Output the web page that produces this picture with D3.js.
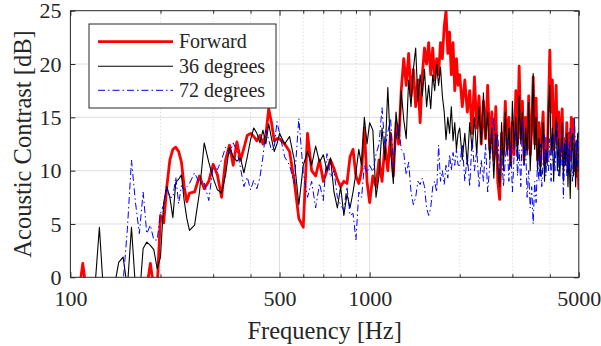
<!DOCTYPE html>
<html><head><meta charset="utf-8">
<script src="https://cdn.jsdelivr.net/npm/d3@7"></script>
<style>
body{margin:0;background:#fff}
svg{display:block}
text{font-family:"Liberation Serif","Times New Roman",serif;fill:#262626}
</style>
</head><body>
<svg id="c" width="601" height="346"></svg>
<script>
// ---- frequency sampling grid (Hz) ----
const freqSeg1 = d3.range(100, 250, 5);    // 30
const freqSeg2 = d3.range(250, 500, 10);   // 25
const freqSeg3 = d3.range(500, 1000, 20);  // 25
const freqSeg4 = d3.range(1000, 2000, 25); // 40
const freqSeg5 = d3.range(2000, 5001, 40); // 76

// ---- Forward (red) ----
const fwd1 = [-3,-3,1.3,-3,-4,-4,-3,-4,-3,-5,-4,-3,-3,-2,-3,-2,-1,1.3,-1,-1,5.8,5.1,8.5,11.0,12.0,12.2,11.8,10.8,8.5,7.1];
const fwd2 = [7.9,8.0,9.5,8.3,9.0,10.6,9.6,7.5,11.0,12.4,10.5,12.7,11.0,12.1,13.3,13.5,13.2,12.8,13.3,12.5,13.4,15.8,14.5,12.8,13.0];
const fwd3 = [13.0,12.5,11.8,9.0,5.5,4.7,13.5,10.0,9.5,11.0,9.0,10.0,11.0,10.2,9.2,8.5,9.0,8.8,11.3,12.0,9.5,8.8,10.0,14.0,9.0];
const fwd4 = [7.0,9.5,8.5,11.0,9.0,12.5,10.0,13.5,9.5,14.5,12.5,17.5,20.5,18.0,21.0,17.0,19.5,16.0,18.5,14.5,19.0,21.5,20.0,22.0,19.0,21.5,18.5,20.5,19.0,22.0,20.5,23.5,25.0,21.0,23.0,19.0,22.0,17.5,20.5,18.0];
const fwd5 = [19.0,16.0,18.5,15.5,17.5,13.5,18.8,14.0,17.0,12.5,16.5,13.0,18.0,12.0,15.5,11.0,16.0,9.0,7.3,13.5,11.5,16.5,12.0,15.0,10.5,14.5,11.5,17.5,12.5,19.8,13.0,16.5,11.0,15.0,12.0,17.0,11.5,14.0,18.8,12.5,16.8,11.0,14.5,10.5,13.5,15.5,10.5,13.0,11.0,16.0,21.3,15.5,18.5,12.0,14.0,18.0,12.5,15.5,11.0,14.0,15.8,10.5,13.0,11.5,14.5,10.0,13.5,11.0,15.0,12.0,14.8,10.0,12.5,9.5,11.5,8.2];

// ---- 36 degrees (black) ----
const d36_1 = [-3,-3,-4,-3,-2,4.7,-3,-3,-1,1.4,1.9,-1,4.7,-1,-2,2.7,3.3,3.0,2.6,0.8,1.9,7.0,8.5,7.5,5.6,8.9,9.2,9.6,7.2,5.5];
const d36_2 = [4.4,4.9,8.0,12.6,10.8,9.3,8.2,7.9,9.6,12.2,11.3,10.9,11.2,9.8,11.3,12.9,14.0,13.5,12.6,13.8,12.5,14.4,13.0,11.8,12.5];
const d36_3 = [13.5,12.5,13.2,11.0,6.8,10.5,11.8,10.5,12.3,10.8,11.5,10.0,11.2,8.0,6.5,8.5,5.8,7.8,6.5,8.0,9.8,12.0,10.5,15.0,12.5];
const d36_4 = [14.5,13.8,7.5,9.5,14.0,11.0,17.8,12.0,8.8,15.5,13.0,17.5,14.8,13.0,18.5,16.0,19.5,21.5,16.5,19.0,17.0,19.5,16.0,18.0,15.8,19.0,17.5,20.0,18.0,19.7,17.0,15.5,12.9,15.0,13.5,16.0,12.8,14.5,12.0,13.5];
const d36_5 = [14.0,11.0,13.5,10.5,14.5,12.0,15.0,11.5,16.0,12.5,17.3,13.0,15.5,11.0,14.0,9.3,13.5,10.5,8.5,14.5,10.0,15.5,11.5,14.0,10.5,16.5,12.0,15.0,11.0,17.0,12.5,15.5,10.5,14.0,11.5,16.4,10.0,13.5,19.1,12.0,15.0,10.0,13.0,9.5,12.5,14.5,9.0,12.0,10.5,15.5,18.0,11.5,14.0,9.0,12.5,15.0,10.0,13.0,9.5,12.0,14.5,9.0,12.5,10.5,13.5,8.5,12.0,7.4,11.5,13.5,9.5,12.5,8.5,11.5,13.5,10.0];

// ---- 72 degrees (blue) ----
const d72_1 = [-3,-4,-3,-4,-3,-2,-3,-2,-3,-2,-0.5,4.5,11.0,7.0,4.1,8.0,4.1,4.9,3.5,3.5,6.0,6.8,8.5,7.5,7.5,9.4,6.9,8.6,8.2,8.5];
const d72_2 = [8.8,9.8,8.8,8.9,7.2,10.5,10.1,11.0,12.2,11.6,12.6,11.9,10.3,8.5,9.4,8.2,9.1,8.3,9.4,11.3,13.8,12.9,11.9,12.2,14.6];
const d72_3 = [13.5,11.3,10.5,8.8,14.9,9.8,7.5,9.0,6.5,8.8,7.2,11.6,9.4,10.0,7.5,6.8,6.3,8.5,5.8,6.0,3.5,8.0,7.5,10.5,9.8];
const d72_4 = [10.5,9.9,11.5,12.5,15.9,12.1,13.6,14.9,10.5,13.0,14.3,12.0,11.7,9.6,10.8,8.0,6.8,7.5,9.0,8.7,9.3,8.5,6.5,5.8,6.5,8.5,9.0,8.0,12.4,9.0,10.0,8.7,10.5,9.3,11.5,10.0,11.7,10.5,12.0,10.5];
const d72_5 = [10.5,12.5,9.0,11.5,8.5,13.0,10.0,12.0,8.5,11.0,9.0,12.5,8.0,10.5,13.0,15.0,11.5,13.5,9.5,12.0,8.5,11.0,13.0,9.0,12.5,8.0,11.5,14.0,9.5,12.0,8.5,14.9,10.5,12.5,7.5,10.0,6.5,8.5,5.0,9.0,7.0,11.0,9.0,12.5,8.5,11.0,13.5,9.5,12.0,10.0,13.0,9.0,11.5,13.5,10.0,12.5,14.5,9.5,12.0,10.5,13.5,7.4,11.0,13.0,9.5,12.5,10.0,14.0,11.0,9.0,12.0,14.9,10.5,13.0,10.0,14.0];

const seriesNames = ["Forward", "36 degrees", "72 degrees"];
const xTickValues = [100, 500, 1000, 5000];
const xMinorValues = [200, 300, 400, 600, 700, 800, 900, 2000, 3000, 4000];
const yTickValues = [0, 5, 10, 15, 20, 25];

// ---- assemble ----
const freqs = [].concat(freqSeg1, freqSeg2, freqSeg3, freqSeg4, freqSeg5);
const vals = [
  [].concat(fwd1, fwd2, fwd3, fwd4, fwd5),
  [].concat(d36_1, d36_2, d36_3, d36_4, d36_5),
  [].concat(d72_1, d72_2, d72_3, d72_4, d72_5)
];
const styles = [
  {color:"#ff0000", width:2.8, dash:null},
  {color:"#000000", width:1.1, dash:null},
  {color:"#0000ff", width:1.0, dash:"7,3,1.5,3"}
];

const svg = d3.select("#c");
const m = {l:70.4, r:578.8, t:10.7, b:277.3};
const x = d3.scaleLog().domain([100, 5000]).range([m.l, m.r]);
const y = d3.scaleLinear().domain([0, 25]).range([m.b, m.t]);
const axisCol = "#262626";

svg.append("rect").attr("width",601).attr("height",346).attr("fill","#fff");

svg.append("defs").append("clipPath").attr("id","clip")
  .append("rect").attr("x",m.l).attr("y",m.t).attr("width",m.r-m.l).attr("height",m.b-m.t);

// grids
const grid = svg.append("g");
grid.selectAll(".gy").data(yTickValues.slice(1,-1)).join("line")
  .attr("x1",m.l).attr("x2",m.r).attr("y1",d=>y(d)).attr("y2",d=>y(d))
  .attr("stroke","#dfdfdf").attr("stroke-width",1);
grid.selectAll(".gxm").data(xMinorValues).join("line")
  .attr("x1",d=>x(d)).attr("x2",d=>x(d)).attr("y1",m.t).attr("y2",m.b)
  .attr("stroke","#c8c8c8").attr("stroke-width",0.8).attr("stroke-dasharray","1,2.5");
grid.selectAll(".gx").data(xTickValues.slice(1,-1)).join("line")
  .attr("x1",d=>x(d)).attr("x2",d=>x(d)).attr("y1",m.t).attr("y2",m.b)
  .attr("stroke","#dfdfdf").attr("stroke-width",1);

// lines
const line = d3.line().x((d,i)=>x(freqs[i])).y(d=>y(d));
const plot = svg.append("g").attr("clip-path","url(#clip)");
vals.forEach((v,k)=>{
  plot.append("path").datum(v).attr("d",line)
    .attr("fill","none").attr("stroke",styles[k].color)
    .attr("stroke-width",styles[k].width)
    .attr("stroke-linejoin","round")
    .attr("stroke-dasharray",styles[k].dash);
});

// axes
function styleAxis(g){
  g.select(".domain").remove();
  g.selectAll("line").attr("stroke",axisCol);
  g.selectAll("text").attr("fill",axisCol).style("font-family",'"Liberation Serif","Times New Roman",serif');
}
svg.append("g").attr("transform",`translate(0,${m.b})`)
  .call(d3.axisBottom(x).tickValues(xTickValues).tickFormat(d3.format("d")).tickSizeInner(-5).tickSizeOuter(0).tickPadding(13))
  .call(styleAxis).selectAll("text").style("font-size","22px");
svg.append("g").attr("transform",`translate(0,${m.b})`)
  .call(d3.axisBottom(x).tickValues(xMinorValues).tickFormat("").tickSizeInner(-3).tickSizeOuter(0))
  .call(styleAxis);
svg.append("g").attr("transform",`translate(0,${m.t})`)
  .call(d3.axisTop(x).tickValues(xTickValues).tickFormat("").tickSizeInner(-5).tickSizeOuter(0))
  .call(styleAxis);
svg.append("g").attr("transform",`translate(0,${m.t})`)
  .call(d3.axisTop(x).tickValues(xMinorValues).tickFormat("").tickSizeInner(-3).tickSizeOuter(0))
  .call(styleAxis);
svg.append("g").attr("transform",`translate(${m.l},0)`)
  .call(d3.axisLeft(y).tickValues(yTickValues).tickFormat(d3.format("d")).tickSizeInner(-5).tickSizeOuter(0).tickPadding(9))
  .call(styleAxis).selectAll("text").style("font-size","22px");
svg.append("g").attr("transform",`translate(${m.r},0)`)
  .call(d3.axisRight(y).tickValues(yTickValues).tickFormat("").tickSizeInner(-5).tickSizeOuter(0))
  .call(styleAxis);

svg.append("rect").attr("x",m.l).attr("y",m.t).attr("width",m.r-m.l).attr("height",m.b-m.t)
  .attr("fill","none").attr("stroke",axisCol).attr("stroke-width",1);

// labels
svg.append("text").attr("x",(m.l+m.r)/2).attr("y",339).attr("text-anchor","middle")
  .style("font-size","24.5px").text("Frequency [Hz]");
svg.append("text").attr("transform",`translate(31,${(m.t+m.b)/2}) rotate(-90)`).attr("text-anchor","middle")
  .style("font-size","24.5px").text("Acoustic Contrast [dB]");

// legend
const lg = svg.append("g");
lg.append("rect").attr("x",89).attr("y",24).attr("width",187).attr("height",84)
  .attr("fill","#fff").attr("stroke",axisCol).attr("stroke-width",1);
const rows = [41.7, 66.3, 90.3];
seriesNames.forEach((n,k)=>{
  lg.append("line").attr("x1",98).attr("x2",173).attr("y1",rows[k]).attr("y2",rows[k])
    .attr("stroke",styles[k].color).attr("stroke-width",styles[k].width)
    .attr("stroke-dasharray",styles[k].dash);
  lg.append("text").attr("x",179).attr("y",rows[k]+6.5).style("font-size","20px").text(n);
});
</script>
</body></html>
